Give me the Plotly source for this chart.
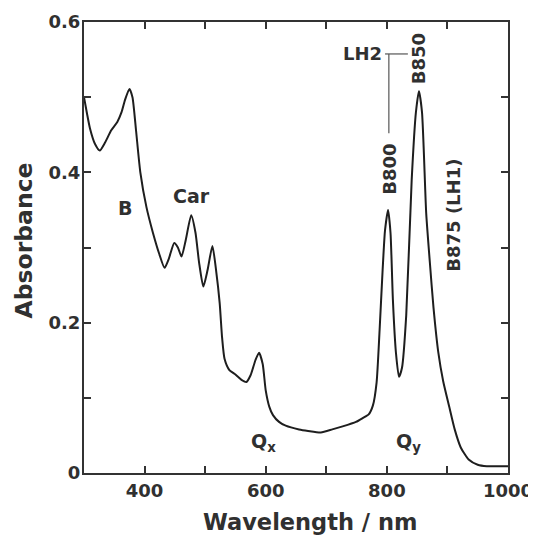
import plotly.graph_objects as go

wavelength = [300, 305, 310, 318, 326, 335, 345, 355, 362, 368, 375, 380, 386, 393, 403, 414, 424, 433,
              440, 449, 455, 461, 468, 477, 484, 490, 497, 504, 512, 518, 524, 528, 532, 540, 550, 560,
              568, 575, 583, 589, 595, 600, 606, 612, 622, 633, 655, 670, 691, 710, 727, 749, 760, 770,
              777, 783, 788, 793, 797, 802, 806, 810, 815, 820, 825, 832, 841, 848, 853, 858, 865, 871,
              877, 885, 893, 903, 912, 922, 935, 950, 965, 985, 1000]
absorbance = [0.500, 0.478, 0.458, 0.438, 0.429, 0.440, 0.456, 0.467, 0.480, 0.497, 0.511, 0.500, 0.455,
              0.400, 0.354, 0.319, 0.292, 0.273, 0.285, 0.306, 0.300, 0.288, 0.310, 0.343, 0.320, 0.280,
              0.248, 0.270, 0.302, 0.270, 0.226, 0.180, 0.152, 0.137, 0.131, 0.124, 0.121, 0.130, 0.150,
              0.160, 0.145, 0.110, 0.088, 0.077, 0.068, 0.063, 0.058, 0.056, 0.054, 0.058, 0.062, 0.068,
              0.073, 0.078, 0.090, 0.120, 0.190, 0.270, 0.323, 0.350, 0.320, 0.230, 0.160, 0.128, 0.140,
              0.210, 0.390, 0.480, 0.508, 0.480, 0.345, 0.280, 0.220, 0.160, 0.122, 0.088, 0.058, 0.034,
              0.018, 0.011, 0.009, 0.009, 0.009]

x_tickvals = [400, 500, 600, 700, 800, 900, 1000]
x_ticktext = ["400", "", "600", "", "800", "", "1000"]
y_tickvals = [0, 0.1, 0.2, 0.3, 0.4, 0.5, 0.6]
y_ticktext = ["0", "", "0.2", "", "0.4", "", "0.6"]

x_title = "Wavelength / nm"
y_title = "Absorbance"

labels = ["B", "Car", "Q<sub>x</sub>", "Q<sub>y</sub>"]
label_x = [368, 477, 597, 836]
label_y = [0.353, 0.369, 0.040, 0.040]

rot_labels = ["B800", "B850", "B875 (LH1)"]
rot_x = [805, 852, 910]
rot_y = [0.4045, 0.551, 0.343]

ink = "#303030"
fnt = "DejaVu Sans, sans-serif"


def bold(s):
    return "<b>" + s + "</b>" if s else ""


fig = go.Figure()
fig.add_trace(go.Scatter(x=wavelength, y=absorbance, mode="lines",
                         line=dict(color="#1e1e1e", width=2, shape="spline", smoothing=0.6),
                         hoverinfo="skip", showlegend=False))

for t, x, y in zip(labels, label_x, label_y):
    fig.add_annotation(x=x, y=y, text=bold(t), showarrow=False,
                       font=dict(family=fnt, size=19, color=ink))
for t, x, y in zip(rot_labels, rot_x, rot_y):
    fig.add_annotation(x=x, y=y, text=bold(t), showarrow=False, textangle=-90,
                       font=dict(family=fnt, size=18, color=ink))

fig.add_annotation(x=796, y=0.5575, text=bold("LH2"), showarrow=False, xanchor="right",
                   font=dict(family=fnt, size=18, color=ink))
# bracket lines for LH2
fig.add_shape(type="line", x0=797, x1=834.7, y0=0.5575, y1=0.5575, line=dict(color="#555", width=1.2))
fig.add_shape(type="line", x0=803.3, x1=803.3, y0=0.5575, y1=0.452, line=dict(color="#555", width=1.2))

# axis titles
fig.add_annotation(xref="paper", yref="paper", x=0.533, y=-0.1086, yanchor="middle",
                   text=bold(x_title), showarrow=False, font=dict(family=fnt, size=22.5, color=ink))
fig.add_annotation(xref="paper", yref="paper", x=-0.1415, y=0.5155, xanchor="center", yanchor="middle",
                   text=bold(y_title), showarrow=False, textangle=-90,
                   font=dict(family=fnt, size=23.5, color=ink))

fig.update_layout(
    width=528, height=530,
    margin=dict(l=76, r=28, t=14, b=65),
    plot_bgcolor="white", paper_bgcolor="white",
    font=dict(family=fnt, color=ink),
    xaxis=dict(range=[300, 1000], tickvals=x_tickvals, ticktext=[bold(t) for t in x_ticktext],
               ticks="inside", ticklen=7, tickwidth=2, tickcolor="#333", automargin=False,
               showline=True, linecolor="#333", linewidth=2, mirror="ticks",
               showgrid=False, zeroline=False,
               tickfont=dict(family=fnt, size=18, color=ink)),
    yaxis=dict(range=[0, 0.6], tickvals=y_tickvals, ticktext=[bold(t) for t in y_ticktext],
               ticks="inside", ticklen=7, tickwidth=2, tickcolor="#333", automargin=False,
               showline=True, linecolor="#333", linewidth=2, mirror="ticks",
               showgrid=False, zeroline=False, ticklabelstandoff=-2,
               tickfont=dict(family=fnt, size=18, color=ink)),
)

fig.write_html("out.html")
